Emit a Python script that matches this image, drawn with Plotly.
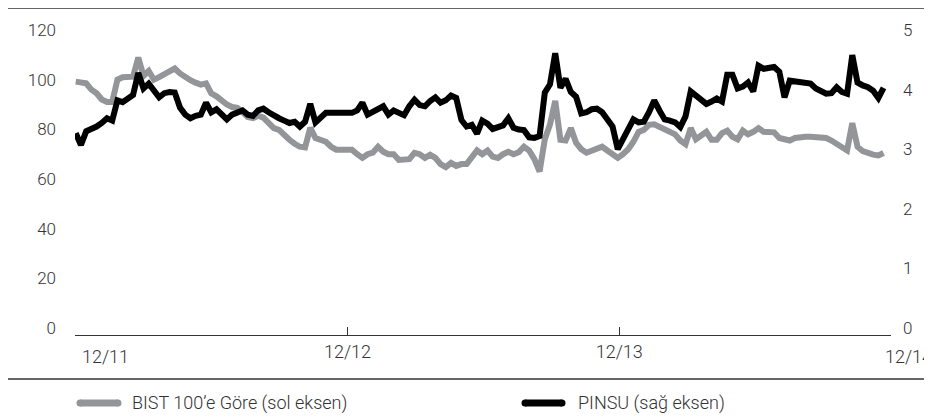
import plotly.graph_objects as go

dates = [
    "2011-12-02","2011-12-09","2011-12-16","2011-12-23","2011-12-30",
    "2012-01-06","2012-01-13","2012-01-20","2012-01-27",
    "2012-02-03","2012-02-10","2012-02-17","2012-02-24",
    "2012-03-02","2012-03-09","2012-03-16","2012-03-23","2012-03-30",
    "2012-04-06","2012-04-13","2012-04-20","2012-04-27",
    "2012-05-04","2012-05-11","2012-05-18","2012-05-25",
    "2012-06-01","2012-06-08","2012-06-15","2012-06-22","2012-06-29",
    "2012-07-06","2012-07-13","2012-07-20","2012-07-27",
    "2012-08-03","2012-08-10","2012-08-17","2012-08-24","2012-08-31",
    "2012-09-07","2012-09-14","2012-09-21","2012-09-28",
    "2012-10-05","2012-10-12","2012-10-19","2012-10-26",
    "2012-11-02","2012-11-09","2012-11-16","2012-11-23","2012-11-30",
    "2012-12-07","2012-12-14","2012-12-21","2012-12-28",
    "2013-01-04","2013-01-11","2013-01-18","2013-01-25",
    "2013-02-01","2013-02-08","2013-02-15","2013-02-22",
    "2013-03-01","2013-03-08","2013-03-15","2013-03-22","2013-03-29",
    "2013-04-05","2013-04-12","2013-04-19","2013-04-26",
    "2013-05-03","2013-05-10","2013-05-17","2013-05-24","2013-05-31",
    "2013-06-07","2013-06-14","2013-06-21","2013-06-28",
    "2013-07-05","2013-07-12","2013-07-19","2013-07-26",
    "2013-08-02","2013-08-09","2013-08-16","2013-08-23","2013-08-30",
    "2013-09-06","2013-09-13","2013-09-20","2013-09-27",
    "2013-10-04","2013-10-11","2013-10-18","2013-10-25",
    "2013-11-01","2013-11-08","2013-11-15","2013-11-22","2013-11-29",
    "2013-12-06","2013-12-13","2013-12-20","2013-12-27",
    "2014-01-03","2014-01-10","2014-01-17","2014-01-24","2014-01-31",
    "2014-02-07","2014-02-14","2014-02-21","2014-02-28",
    "2014-03-07","2014-03-14","2014-03-21","2014-03-28",
    "2014-04-04","2014-04-11","2014-04-18","2014-04-25",
    "2014-05-02","2014-05-09","2014-05-16","2014-05-23","2014-05-30",
    "2014-06-06","2014-06-13","2014-06-20","2014-06-27",
    "2014-07-04","2014-07-11","2014-07-18","2014-07-25",
    "2014-08-01","2014-08-08","2014-08-15","2014-08-22","2014-08-29",
    "2014-09-05","2014-09-12","2014-09-19","2014-09-26",
    "2014-10-03","2014-10-10","2014-10-17","2014-10-24","2014-10-31",
    "2014-11-07","2014-11-14","2014-11-21",
]

bist_relative = [
    99.2, 99.0, 98.5, 96.0, 94.5, 92.0, 91.0, 91.0, 100.0, 101.0,
    101.2, 101.2, 108.9, 101.5, 103.5, 100.0, 101.0, 102.0, 103.5, 104.5,
    102.5, 100.8, 99.8, 98.8, 98.0, 98.5, 94.5, 93.3, 91.5, 90.0,
    89.0, 88.7, 87.0, 85.0, 84.5, 85.5, 84.7, 82.5, 80.5, 79.8,
    77.5, 75.8, 74.2, 73.0, 72.7, 80.6, 76.5, 76.0, 75.0, 73.0,
    71.8, 71.8, 71.8, 71.8, 70.0, 68.5, 70.0, 70.6, 73.0, 71.0,
    70.0, 70.0, 67.7, 67.7, 68.0, 70.5, 70.0, 68.5, 69.8, 68.5,
    66.0, 64.8, 66.5, 65.3, 66.0, 66.0, 68.5, 71.5, 70.0, 71.5,
    69.0, 68.5, 70.0, 71.0, 70.0, 70.8, 73.0, 71.5, 68.0, 63.0,
    76.0, 82.0, 91.5, 75.8, 75.5, 80.5, 74.6, 72.0, 70.6, 71.5,
    72.6, 73.0, 71.5, 70.0, 68.5, 70.0, 72.0, 75.0, 79.0, 79.8,
    81.8, 82.0, 81.0, 79.8, 79.2, 78.0, 75.5, 74.0, 80.5, 76.0,
    77.5, 79.0, 75.8, 75.8, 78.5, 79.5, 77.0, 76.0, 79.5, 78.0,
    79.0, 80.5, 79.0, 79.0, 78.8, 76.5, 75.8, 75.5, 76.5, 77.0,
    77.0, 77.0, 77.0, 76.8, 76.5, 75.5, 74.3, 72.8, 71.5, 82.5,
    73.0, 71.2, 70.2, 69.8, 69.5, 70.5,
]

pinsu = [
    3.27, 3.07, 3.30, 3.33, 3.38, 3.44, 3.52, 3.48, 3.82, 3.79,
    3.85, 3.91, 4.28, 4.02, 4.10, 3.98, 3.87, 3.94, 3.96, 3.95,
    3.70, 3.58, 3.52, 3.56, 3.58, 3.78, 3.62, 3.67, 3.58, 3.50,
    3.58, 3.62, 3.65, 3.58, 3.56, 3.65, 3.68, 3.62, 3.56, 3.52,
    3.48, 3.44, 3.46, 3.38, 3.46, 3.76, 3.45, 3.52, 3.61, 3.61,
    3.61, 3.61, 3.61, 3.61, 3.65, 3.78, 3.58, 3.63, 3.68, 3.72,
    3.58, 3.65, 3.61, 3.57, 3.72, 3.83, 3.74, 3.72, 3.81, 3.87,
    3.78, 3.82, 3.90, 3.86, 3.49, 3.38, 3.41, 3.26, 3.48, 3.43,
    3.34, 3.37, 3.40, 3.52, 3.36, 3.33, 3.32, 3.20, 3.19, 3.22,
    3.95, 4.09, 4.61, 4.03, 4.18, 3.96, 3.88, 3.60, 3.62, 3.67,
    3.68, 3.62, 3.51, 3.38, 3.00, 3.16, 3.35, 3.50, 3.45, 3.46,
    3.62, 3.82, 3.65, 3.50, 3.48, 3.45, 3.37, 3.55, 3.97, 3.90,
    3.86, 3.76, 3.80, 3.85, 3.80, 4.25, 4.25, 4.02, 4.05, 4.12,
    3.97, 4.40, 4.35, 4.37, 4.38, 4.30, 3.87, 4.15, 4.14, 4.13,
    4.13, 4.10, 4.02, 3.96, 3.93, 3.94, 4.04, 3.96, 3.93, 4.58,
    4.12, 4.07, 4.04, 3.98, 3.86, 4.03,
]

tick_dates = ["2011-12-01", "2012-12-01", "2013-12-01", "2014-12-01"]
tick_text = ["12/11", "12/12", "12/13", "12/14"]
left_ticks = [0, 20, 40, 60, 80, 100, 120]
right_ticks = [0, 1, 2, 3, 4, 5]
series_names = ["BIST 100\u2019e Göre (sol eksen)", "PINSU (sağ eksen)"]

GRAY = "#939598"
BLACK = "#000000"
TXT = "#333333"
FONT = "Roboto"

fig = go.Figure()
fig.add_trace(go.Scatter(x=dates, y=bist_relative, mode="lines", name=series_names[0],
                         line=dict(color=GRAY, width=6), yaxis="y"))
fig.add_trace(go.Scatter(x=dates, y=pinsu, mode="lines", name=series_names[1],
                         line=dict(color=BLACK, width=6), yaxis="y2"))

# the page has an 8px body margin; figure is placed at (8, 8) in the window
OFF = 8
W, H = 932 - OFF, 419 - OFF
L, T = 75 - OFF, 30 - OFF
R = W - (891 - OFF)
B = H - (335 - OFF)
pw, ph = W - L - R, H - T - B

def px(x):  # window pixel -> paper
    return (x - OFF - L) / pw

def py(y):
    return (H - B - (y - OFF)) / ph

fig.update_layout(
    width=W, height=H,
    margin=dict(l=L, r=R, t=T, b=B),
    paper_bgcolor="white", plot_bgcolor="white",
    showlegend=False,
    font=dict(family=FONT, size=17, color=TXT, weight=300),
    xaxis=dict(type="date", range=[tick_dates[0], tick_dates[-1]],
               tickvals=tick_dates, ticktext=["", tick_text[1], tick_text[2], ""],
               ticks="inside", ticklen=8, tickwidth=1.3, tickcolor="#333",
               showline=True, linecolor="#333", linewidth=1.3,
               showgrid=False, zeroline=False, fixedrange=True,
               tickfont=dict(size=18, weight=300)),
    yaxis=dict(range=[-2.8, 120], tickvals=left_ticks, showgrid=False,
               zeroline=False, showline=False, ticks="", ticklabelstandoff=18,
               tickfont=dict(size=17, weight=300)),
    yaxis2=dict(range=[-0.1167, 5], tickvals=right_ticks, overlaying="y", side="right",
                showgrid=False, zeroline=False, showline=False, ticks="",
                ticklabelstandoff=11, tickfont=dict(size=17, weight=300)),
)

# end labels of x axis
fig.add_annotation(x=px(105), y=py(356), xref="paper", yref="paper", text=tick_text[0],
                   showarrow=False, xanchor="center", yanchor="middle", font=dict(size=18, weight=300))
fig.add_annotation(x=px(883), y=py(356), xref="paper", yref="paper", text=tick_text[3],
                   showarrow=False, xanchor="left", yanchor="middle", font=dict(size=18, weight=300))

# framing rules
fig.add_shape(type="line", xref="paper", yref="paper", x0=px(5), x1=px(927), y0=py(8), y1=py(8),
              line=dict(color="#333", width=1.5))
fig.add_shape(type="line", xref="paper", yref="paper", x0=px(5), x1=px(927), y0=py(379), y1=py(379),
              line=dict(color="#333", width=1.5))

# legend
for (x0, x1, col, tx, name) in [(80, 118, GRAY, 130, series_names[0]), (525, 562, BLACK, 576, series_names[1])]:
    fig.add_shape(type="line", xref="paper", yref="paper", x0=px(x0), x1=px(x1), y0=py(403), y1=py(403),
                  line=dict(color=col, width=7))
    for cx in (x0, x1):
        fig.add_shape(type="circle", xref="paper", yref="paper", xsizemode="pixel", ysizemode="pixel",
                      xanchor=px(cx), yanchor=py(403), x0=-3.5, x1=3.5, y0=-3.5, y1=3.5,
                      line=dict(width=0), fillcolor=col)
    fig.add_annotation(x=px(tx), y=py(403), xref="paper", yref="paper", text=name, showarrow=False,
                       xanchor="left", yanchor="middle", font=dict(size=18, weight=300))

fig.write_html("out.html", config={"displayModeBar": False})
